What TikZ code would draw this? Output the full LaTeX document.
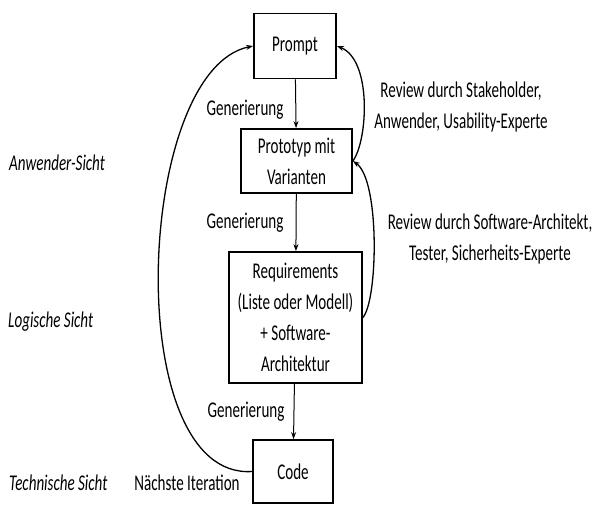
\documentclass[tikz,border=0pt]{standalone}
\usepackage{fontspec}
\setmainfont{Carlito}[FakeStretch=0.67]
\usepackage{tikz}
\usetikzlibrary{calc,positioning,arrows.meta}
\tikzset{step box/.style={rectangle,draw,line width=1.8pt,align=center,inner sep=0pt,font=\fontsize{22.5}{31}\selectfont},
plain text/.style={align=center,inner sep=0pt,font=\fontsize{22.5}{31}\selectfont},
view text/.style={anchor=west,inner sep=0pt,font=\fontsize{22.5}{31}\selectfont\itshape}}

\begin{document}
\begin{tikzpicture}[x=1pt,y=-1pt,>={Stealth[length=7pt,width=5pt]}]
\useasboundingbox (0,0) rectangle (597,504);
% Boxes in the middle column
\node[step box, minimum width=82pt, minimum height=65pt] (prompt) at (295,46) {Prompt};
\node[step box, minimum width=111pt, minimum height=64pt] (proto) at (296.5,161) {Prototyp mit\\Varianten};
\node[step box, minimum width=133pt, minimum height=131pt] (req) at (295.5,317.5) {Requirements\\(Liste oder Modell)\\+ Software-\\Architektur};
\node[step box, minimum width=80pt, minimum height=63pt] (code) at (293,471.5) {Code};

% Generation arrows
\draw[->, line width=1pt] (prompt) -- (proto);
\draw[->, line width=1pt] (proto) -- (req);
\draw[->, line width=1pt] (req) -- (code);
\node[plain text] (gen1) at (245,110) {Generierung};
\node[plain text] (gen2) at (245,223) {Generierung};
\node[plain text] (gen3) at (246,412) {Generierung};

% Review loops on the right
\draw[->, line width=1.3pt] (proto.east) .. controls (368,140) and (372,60) .. (prompt.east);
\draw[->, line width=1.3pt] (req.east) .. controls (378,300) and (380,180) .. (proto.east);
\node[plain text] (rev1) at (461,107) {Review durch Stakeholder,\\Anwender, Usability-Experte};
\node[plain text] (rev2) at (490,239) {Review durch Software-Architekt,\\Tester, Sicherheits-Experte};

% Next iteration on the left
\draw[->, line width=1.3pt] (code.west) .. controls (120,480) and (135,70) .. (prompt.west);
\node[plain text] (next) at (187,483) {Nächste Iteration};

% Views
\node[view text] (v1) at (9,163) {Anwender-Sicht};
\node[view text] (v2) at (8,322) {Logische Sicht};
\node[view text] (v3) at (9,483) {Technische Sicht};
\end{tikzpicture}
\end{document}
